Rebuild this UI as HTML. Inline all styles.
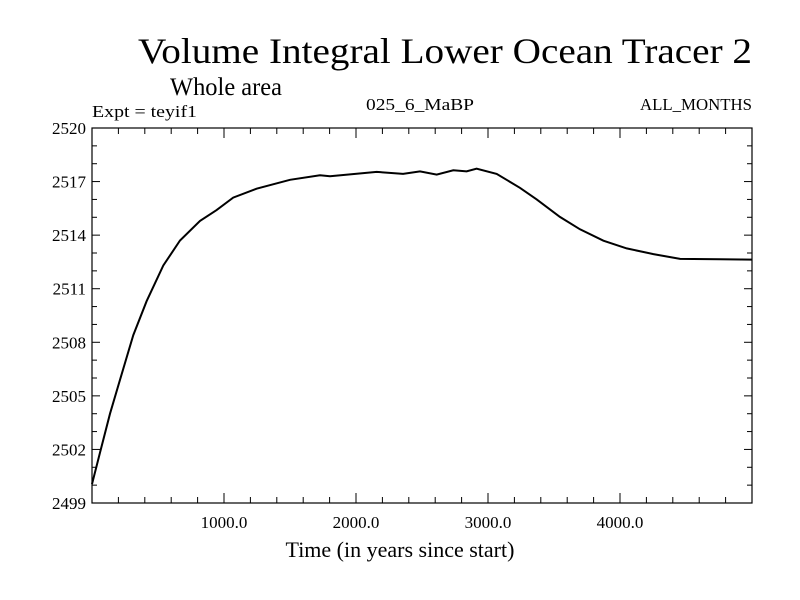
<!DOCTYPE html>
<html><head><meta charset="utf-8"><style>
body{margin:0;background:#fff}
svg{display:block;font-family:"Liberation Serif",serif}
</style></head><body>
<svg id="chart" width="800" height="600">
<text x="138" y="63" font-size="36" textLength="614" lengthAdjust="spacingAndGlyphs">Volume Integral Lower Ocean Tracer 2</text>
<text x="170" y="95" font-size="25" textLength="112" lengthAdjust="spacingAndGlyphs">Whole area</text>
<text x="92" y="117" font-size="17" textLength="105" lengthAdjust="spacingAndGlyphs">Expt = teyif1</text>
<text x="366" y="110" font-size="17" textLength="108" lengthAdjust="spacingAndGlyphs">025_6_MaBP</text>
<text x="640" y="110" font-size="17" textLength="112" lengthAdjust="spacingAndGlyphs">ALL_MONTHS</text>
<text x="400" y="557" font-size="22" text-anchor="middle">Time (in years since start)</text>
<rect x="92" y="128" width="660" height="375" fill="none" stroke="#000" stroke-width="1.2"/>
<g id="axes"></g>
<path id="line" fill="none" stroke="#000" stroke-width="2"/>
</svg>
<script>
const times=[0,60,136,212,313,414,540,667,818,944,1070,1247,1500,1727,1803,2157,2357,2485,2611,2737,2838,2914,3066,3242,3369,3545,3697,3874,4051,4253,4455,4758,5000];
const values=[2500.06,2501.8,2504.0,2505.9,2508.4,2510.3,2512.3,2513.7,2514.8,2515.4,2516.1,2516.6,2517.1,2517.35,2517.3,2517.54,2517.43,2517.57,2517.39,2517.63,2517.57,2517.72,2517.43,2516.65,2516.0,2515.02,2514.33,2513.69,2513.26,2512.94,2512.67,2512.65,2512.63];
const yTicks=[2499,2502,2505,2508,2511,2514,2517,2520];
const xTicks=[1000,2000,3000,4000];
const xLabels=["1000.0","2000.0","3000.0","4000.0"];
const X0=92,X1=752,Y0=503,Y1=128,TMAX=5000,VMIN=2499,VMAX=2520;
const xs=t=>X0+(t/TMAX)*(X1-X0);
const ys=v=>Y0-(v-VMIN)/(VMAX-VMIN)*(Y0-Y1);
const NS="http://www.w3.org/2000/svg";
const g=document.getElementById('axes');
function ln(x1,y1,x2,y2,name){const l=document.createElementNS(NS,'line');l.setAttribute('x1',x1);l.setAttribute('y1',y1);l.setAttribute('x2',x2);l.setAttribute('y2',y2);l.setAttribute('stroke','#000');l.setAttribute('stroke-width','1');


g.appendChild(l);}
function tx(x,y,s,anchor,name){const t=document.createElementNS(NS,'text');t.setAttribute('x',x);t.setAttribute('y',y);t.setAttribute('font-size','17');t.setAttribute('text-anchor',anchor);t.textContent=s;


g.appendChild(t);}
for(let v=VMIN;v<=VMAX;v++){const y=ys(v);const major=yTicks.includes(v);const len=major?8:5;ln(X0,y,X0+len,y,'y-tick');ln(X1,y,X1-len,y,'y-tick-right');}
yTicks.forEach(v=>tx(86,ys(v)+6,String(v),'end','y-tick-label'));
for(let t=200;t<TMAX;t+=200){const x=xs(t);const major=xTicks.includes(t);const len=major?10:6;ln(x,Y0,x,Y0-len,'x-tick');ln(x,Y1,x,Y1+len,'x-tick-top');}
xTicks.forEach((t,i)=>tx(xs(t),528,xLabels[i],'middle','x-tick-label'));
let d='';times.forEach((t,i)=>{d+=(i?'L':'M')+xs(t).toFixed(1)+' '+ys(values[i]).toFixed(1)+' ';});
document.getElementById('line').setAttribute('d',d);
</script>
</body></html>
